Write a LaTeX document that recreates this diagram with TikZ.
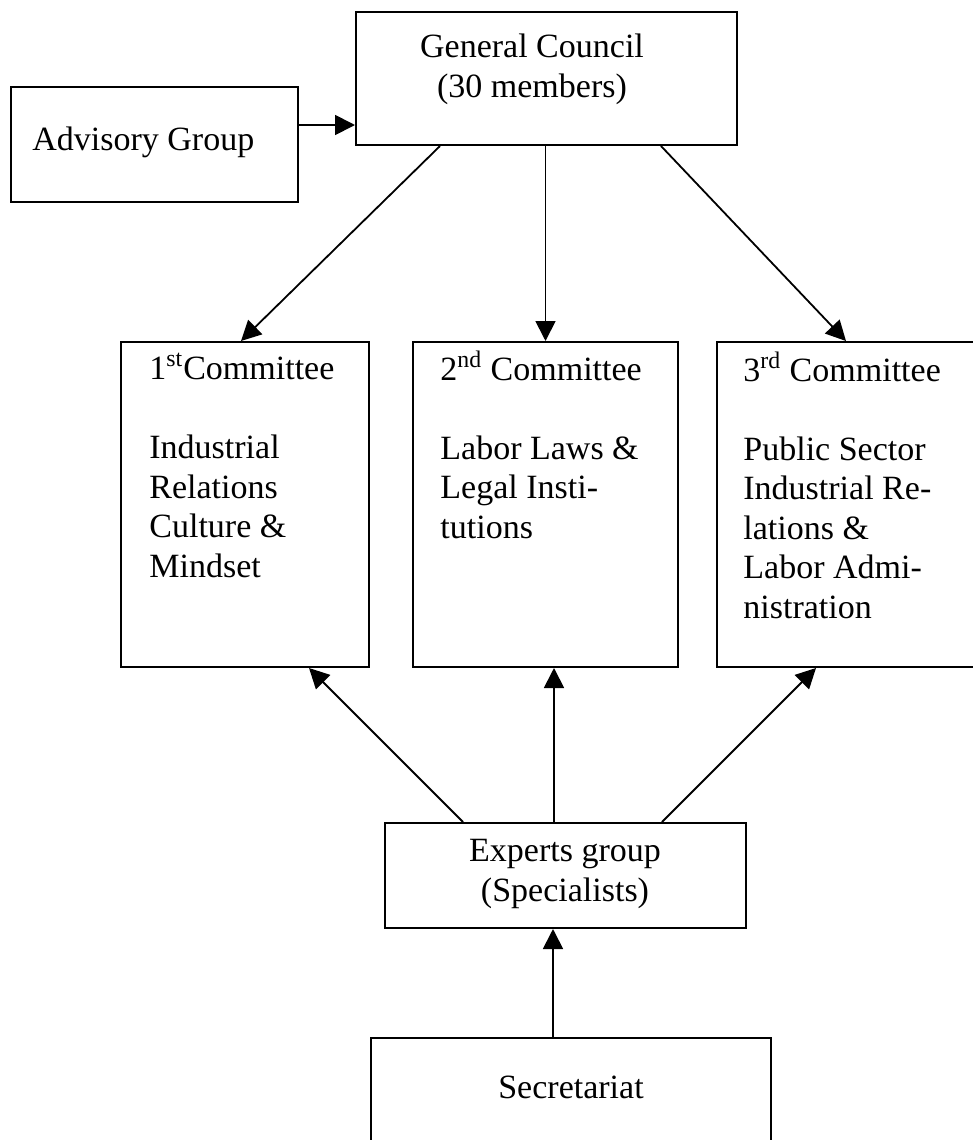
\documentclass[tikz,border=0pt]{standalone}
\usepackage{fontspec}
\setmainfont{Liberation Serif}
\usepackage{tikz}
\usetikzlibrary{arrows.meta,calc}
\tikzstyle{orgbox}=[draw, line width=1pt, inner sep=0pt]
\tikzstyle{orgtext}=[inner sep=0pt, font=\fontsize{17}{19.75}\selectfont]
\tikzstyle{link}=[line width=0.9pt, -{Triangle[length=10pt,width=10pt]}]

\begin{document}
\begin{tikzpicture}[x=0.5pt, y=-0.5pt]
	\useasboundingbox (0,0) rectangle (973,1140);
	\node[orgbox, minimum width=190.5pt, minimum height=66.5pt] (gc) at (546.5,78.5) {};
	\node[orgbox, minimum width=143.5pt, minimum height=57.5pt] (adv) at (154.5,144.5) {};
	\node[orgbox, minimum width=124pt, minimum height=162.5pt] (cone) at (245,504.5) {};
	\node[orgbox, minimum width=132.5pt, minimum height=162.5pt] (ctwo) at (545.5,504.5) {};
	\node[orgbox, minimum width=136.5pt, minimum height=162.5pt] (cthree) at (853.5,504.5) {};
	\node[orgbox, minimum width=180.5pt, minimum height=52.5pt] (exp) at (565.5,875.5) {};
	\node[orgbox, minimum width=200pt, minimum height=66pt] (sec) at (571,1104) {};
	\node[orgtext, align=center, anchor=base] (gctext) at (532,97) {General Council\\(30 members)};
	\node[orgtext, anchor=base west] (advtext) at (32,150) {Advisory Group};
	\node[orgtext, align=left, anchor=base west] (conetext) at (149,577) {1\textsuperscript{st}Committee\\[19.75pt]Industrial\\Relations\\Culture \&\\Mindset};
	\node[orgtext, align=left, anchor=base west] (ctwotext) at (440,538) {2\textsuperscript{nd} Committee\\[19.75pt]Labor Laws \&\\Legal Insti-\\tutions};
	\node[orgtext, align=left, anchor=base west] (cthreetext) at (743,618) {3\textsuperscript{rd} Committee\\[19.75pt]Public Sector\\Industrial Re-\\lations \&\\Labor Admi-\\nistration};
	\node[orgtext, align=center, anchor=base] (exptext) at (565,901) {Experts group\\(Specialists)};
	\node[orgtext, anchor=base] (sectext) at (571,1098) {Secretariat};
	\draw[link] ($(adv.north east)+(0,39)$) -- ($(gc.north west)+(0,114)$);
	\draw[link] ($(gc.south west)+(85,0)$) -- ($(cone.north west)+(121,0)$);
	\draw[link] (ctwo.north |- gc.south) -- (ctwo.north);
	\draw[link] ($(gc.south west)+(306,0)$) -- ($(cthree.north west)+(130,0)$);
	\draw[link] ($(exp.north west)+(79,0)$) -- ($(cone.south west)+(189,0)$);
	\draw[link] ($(exp.north west)+(170,0)$) -- ($(ctwo.south west)+(142,0)$);
	\draw[link] ($(exp.north west)+(278,0)$) -- ($(cthree.south west)+(100,0)$);
	\draw[link] ($(sec.north west)+(183,0)$) -- ($(exp.south west)+(169,0)$);
\end{tikzpicture}
\end{document}
